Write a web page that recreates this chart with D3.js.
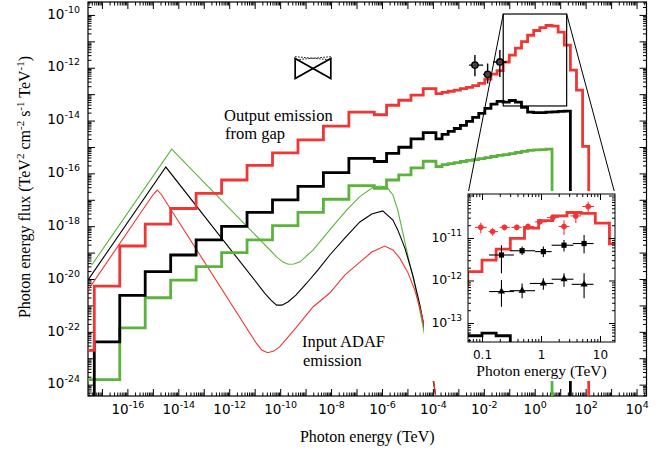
<!DOCTYPE html>
<html>
<head>
<meta charset="utf-8">
<script src="https://cdn.jsdelivr.net/npm/d3@7"></script>
<style>
body{margin:0;background:#fff;}
svg{display:block;}
</style>
</head>
<body>
<div id="chart"></div>
<script>
// all numbers are log10 values (energy in TeV, flux in TeV cm^-2 s^-1)

// output emission from the gap: histogram bins shared by the three runs
var binEdges = [-17.55, -17.3, -16.3, -15.3, -14.3, -13.3, -12.3, -11.3, -10.3, -9.3, -8.3, -7.3, -6.3,
	-5.82, -5.34, -4.86, -4.38, -3.88, -3.64, -3.40, -3.16, -2.92, -2.68, -2.44, -2.20, -1.96, -1.72,
	-1.48, -1.24, -1.00, -0.76, -0.52, -0.28, -0.04, 0.20, 0.44, 0.68, 0.92, 1.16, 1.40, 1.64, 1.88, 2.12];

var redGap = [-22.70, -20.27, -18.75, -17.92, -17.33, -16.76, -16.25, -15.70, -15.22, -14.73, -14.21, -13.68,
	-13.78, -13.42, -13.23, -13.04, -12.79, -12.98, -12.93, -12.89, -12.85, -12.79, -12.74, -12.68, -12.59,
	-12.43, -12.24, -12.11, -11.79, -11.52, -11.26, -11.01, -10.77, -10.59, -10.48, -10.40, -10.42, -10.65,
	-11.14, -12.09, -12.85, -14.98];

var blackGap = [null, -22.38, -20.62, -19.72, -19.09, -18.52, -18.01, -17.48, -17.00, -16.49, -15.97, -15.43,
	-15.55, -15.24, -15.01, -14.69, -14.46, -14.69, -14.52, -14.41, -14.30, -14.18, -14.03, -13.88, -13.73,
	-13.54, -13.38, -13.27, -13.30, -13.24, -13.30, -13.50, -13.68, -13.70, -13.70, -13.68, -13.67, -13.65,
	-13.64, null, null, null];

var greenGap = [-23.81, -23.81, -21.85, -20.71, -20.04, -19.53, -19.00, -18.52, -17.98, -17.48, -16.98, -16.46,
	-16.57, -16.25, -16.06, -15.79, -15.54, -15.74, -15.67, -15.63, -15.59, -15.55, -15.51, -15.48, -15.44,
	-15.40, -15.36, -15.32, -15.29, -15.25, -15.21, -15.17, -15.13, -15.11, -15.10, -15.08, null, null,
	null, null, null, null];

// input ADAF emission [logE, logFlux]
var greenAdaf = [[-17.40, -19.47], [-14.26, -15.08], [-10.14, -19.16], [-9.89, -19.36], [-9.68, -19.44],
	[-9.46, -19.43], [-9.22, -19.35], [-8.70, -18.90], [-8.05, -18.14], [-7.39, -17.39], [-6.87, -16.88],
	[-6.35, -16.53], [-6.08, -16.48], [-5.81, -16.52], [-5.57, -16.82], [-5.38, -17.39], [-5.22, -18.07],
	[-4.99, -19.09], [-4.71, -20.23], [-4.44, -21.55], [-4.20, -22.76], [-4.00, -23.83], [-3.89, -24.43]];

var blackAdaf = [[-17.55, -20.04], [-14.49, -15.76], [-10.60, -20.54], [-10.36, -20.80], [-10.14, -20.99],
	[-9.93, -20.99], [-9.68, -20.86], [-9.38, -20.61], [-8.96, -20.16], [-8.52, -19.66], [-8.05, -19.09],
	[-7.46, -18.45], [-6.87, -17.84], [-6.40, -17.54], [-5.97, -17.42], [-5.57, -17.77], [-5.38, -18.14],
	[-5.10, -18.83], [-4.79, -19.85], [-4.51, -20.99], [-4.24, -22.31], [-4.04, -23.45], [-3.89, -24.43]];

var redAdaf = [[-17.55, -20.42], [-15.00, -16.82], [-14.83, -16.63], [-14.68, -16.78], [-10.93, -22.44],
	[-10.72, -22.69], [-10.49, -22.79], [-10.25, -22.73], [-10.01, -22.56], [-9.35, -21.81], [-8.70, -21.05],
	[-8.05, -20.53], [-7.46, -19.85], [-6.87, -19.36], [-6.40, -18.98], [-5.89, -18.75], [-5.57, -18.90],
	[-5.30, -19.21], [-4.99, -19.74], [-4.71, -20.42], [-4.44, -21.36], [-4.20, -22.50], [-4.00, -23.64],
	[-3.89, -24.43]];

// measured points [logE, logF, logE lo, logE hi, logF lo, logF hi]
var mainPoints = [[-2.35, -11.90, -2.58, -2.03, -12.32, -11.52],
	[-1.85, -12.25, -2.03, -1.70, -12.60, -11.84],
	[-1.37, -11.78, -1.64, -1.11, -12.35, -11.33]];

var bowtieE = [-9.41, -8.01];
var bowtieF = [-11.65, -12.41];
var bowtieDotF = [-11.58, -11.70];

var insetRed = [[-1.02, -10.75, -1.12, -0.92, -10.89, -10.64],
	[-0.82, -10.85, -0.89, -0.73, -10.95, -10.77],
	[-0.62, -10.75, -0.70, -0.53, -10.82, -10.69],
	[-0.41, -10.75, -0.50, -0.33, -10.82, -10.69],
	[-0.22, -10.73, -0.31, -0.12, -10.81, -10.66],
	[-0.02, -10.62, -0.10, 0.10, -10.69, -10.55],
	[0.20, -10.52, 0.10, 0.30, -10.59, -10.46],
	[0.39, -10.73, 0.30, 0.48, -10.93, -10.58],
	[0.59, -10.48, 0.50, 0.68, -10.65, -10.38],
	[0.80, -10.26, 0.70, 0.90, -10.38, -10.15]];

var insetSquares = [[-0.67, -11.40, -0.88, -0.46, -11.83, -11.17],
	[-0.32, -11.30, -0.53, -0.10, -11.40, -11.20],
	[0.04, -11.32, -0.10, 0.18, -11.45, -11.20],
	[0.39, -11.17, 0.18, 0.55, -11.32, -11.05],
	[0.73, -11.13, 0.54, 0.89, -11.36, -10.93]];

var insetTriangles = [[-0.67, -12.26, -0.88, -0.46, -12.62, -11.99],
	[-0.32, -12.24, -0.53, -0.10, -12.42, -12.07],
	[0.04, -12.07, -0.19, 0.21, -12.22, -11.95],
	[0.39, -11.97, 0.18, 0.55, -12.15, -11.83],
	[0.73, -12.09, 0.52, 0.89, -12.42, -11.83]];

// axis ranges and tick labels
var xDomainExp = [-17.547, 4.39];
var yDomainExp = [-24.43, -9.51];
var insetXDomainExp = [-1.237, 1.254];
var insetYDomainExp = [-13.447, -9.965];
var xLabelExp = [-16, -14, -12, -10, -8, -6, -4, -2, 0, 2, 4];
var yLabelExp = [-10, -12, -14, -16, -18, -20, -22, -24];
var insetXLabels = [0.1, 1, 10];
var insetYLabelExp = [-11, -12, -13];

var RED = "#f03535", GREEN = "#5ab43c", BLACK = "#000";
var W = 671, H = 453;
var plotL = 88, plotR = 646.5, plotT = 2, plotB = 396;
var insL = 468, insR = 615, insT = 194, insB = 342;

function p10(e){ return Math.pow(10, e); }

var x = d3.scaleLog().domain(xDomainExp.map(p10)).range([plotL, plotR]);
var y = d3.scaleLog().domain(yDomainExp.map(p10)).range([plotB, plotT]);
var xi = d3.scaleLog().domain(insetXDomainExp.map(p10)).range([insL, insR]);
var yi = d3.scaleLog().domain(insetYDomainExp.map(p10)).range([insB, insT]);

var svg = d3.select("#chart").append("svg").attr("width", W).attr("height", H);
var defs = svg.append("defs");
defs.append("clipPath").attr("id", "clipMain").append("rect")
	.attr("x", plotL).attr("y", plotT).attr("width", plotR - plotL).attr("height", plotB - plotT);
defs.append("clipPath").attr("id", "clipInset").append("rect")
	.attr("x", insL).attr("y", insT).attr("width", insR - insL).attr("height", insB - insT);

function decades(lo, hi){
	var out = [];
	for(var k = Math.ceil(lo); k <= Math.floor(hi); k++) out.push(p10(k));
	return out;
}

function minors(lo, hi){
	var out = [];
	for(var k = Math.floor(lo); k <= Math.ceil(hi); k++){
		for(var m = 2; m < 10; m++){
			var l = Math.log10(m) + k;
			if(l > lo && l < hi) out.push(m * p10(k));
		}
	}
	return out;
}

// turn a bin list into a step outline, dropping to the floor where a run starts or stops
function stepPoints(levels){
	var pts = [], floor = -26;
	for(var i = 0; i < levels.length; i++){
		if(levels[i] === null) continue;
		if(i > 0 && levels[i - 1] === null) pts.push([binEdges[i], floor]);
		pts.push([binEdges[i], levels[i]]);
		pts.push([binEdges[i + 1], levels[i]]);
		if(i === levels.length - 1 || levels[i + 1] === null) pts.push([binEdges[i + 1], floor]);
	}
	return pts;
}

function expLabels(sel, exps, fs, sfs, rise){
	sel.selectAll(".tick text").each(function(d){
		var e = Math.round(Math.log10(d));
		var t = d3.select(this).text(null);
		if(exps.indexOf(e) < 0) return;
		t.append("tspan").attr("font-size", fs).text("10");
		t.append("tspan").attr("font-size", sfs).attr("dy", -rise).text(e);
	});
}

function styleAxis(g){
	g.select(".domain").remove();
	g.selectAll(".tick line").attr("stroke", "#000").attr("stroke-width", 1);
	g.attr("font-family", "DejaVu Sans").attr("fill", "#000");
	g.selectAll(".tick text").attr("fill", "#000");
}

// ---------- main panel ----------
var xD = decades(xDomainExp[0], xDomainExp[1]), xM = minors(xDomainExp[0], xDomainExp[1]);
var yD = decades(yDomainExp[0], yDomainExp[1]), yM = minors(yDomainExp[0], yDomainExp[1]);

var gxb = svg.append("g").attr("transform", "translate(0," + plotB + ")")
	.call(d3.axisBottom(x).tickValues(xD).tickSize(-7).tickPadding(11));
styleAxis(gxb);
expLabels(gxb, xLabelExp, 13.5, 9.5, 6);
svg.append("g").attr("transform", "translate(0," + plotB + ")")
	.call(d3.axisBottom(x).tickValues(xM).tickSize(-3.5).tickFormat("")).call(styleAxis);
svg.append("g").attr("transform", "translate(0," + plotT + ")")
	.call(d3.axisTop(x).tickValues(xD).tickSize(-7).tickFormat("")).call(styleAxis);
svg.append("g").attr("transform", "translate(0," + plotT + ")")
	.call(d3.axisTop(x).tickValues(xM).tickSize(-3.5).tickFormat("")).call(styleAxis);

var gyl = svg.append("g").attr("transform", "translate(" + plotL + ",0)")
	.call(d3.axisLeft(y).tickValues(yD).tickSize(-7).tickPadding(8));
styleAxis(gyl);
expLabels(gyl, yLabelExp, 13.5, 9.5, 6);
svg.append("g").attr("transform", "translate(" + plotL + ",0)")
	.call(d3.axisLeft(y).tickValues(yM).tickSize(-3.5).tickFormat("")).call(styleAxis);
svg.append("g").attr("transform", "translate(" + plotR + ",0)")
	.call(d3.axisRight(y).tickValues(yD).tickSize(-7).tickFormat("")).call(styleAxis);
svg.append("g").attr("transform", "translate(" + plotR + ",0)")
	.call(d3.axisRight(y).tickValues(yM).tickSize(-3.5).tickFormat("")).call(styleAxis);

svg.append("rect").attr("x", plotL).attr("y", plotT).attr("width", plotR - plotL).attr("height", plotB - plotT)
	.attr("fill", "none").attr("stroke", "#000").attr("stroke-width", 1.2);

var gMain = svg.append("g").attr("clip-path", "url(#clipMain)");

var thinLine = d3.line()
	.x(function(d){ return x(p10(d[0])); })
	.y(function(d){ return y(p10(d[1])); });

[[greenAdaf, GREEN], [blackAdaf, BLACK], [redAdaf, RED]].forEach(function(c){
	gMain.append("path").attr("d", thinLine(c[0]))
		.attr("fill", "none").attr("stroke", c[1]).attr("stroke-width", 1.1);
});

[[greenGap, GREEN], [blackGap, BLACK], [redGap, RED]].forEach(function(c){
	gMain.append("path").attr("d", thinLine(stepPoints(c[0])))
		.attr("fill", "none").attr("stroke", c[1]).attr("stroke-width", 2.8)
		.attr("stroke-linejoin", "miter");
});

function errorBars(g, rows, sx, sy, color, w){
	rows.forEach(function(r){
		g.append("line").attr("x1", sx(p10(r[2]))).attr("x2", sx(p10(r[3])))
			.attr("y1", sy(p10(r[1]))).attr("y2", sy(p10(r[1])))
			.attr("stroke", color).attr("stroke-width", w);
		g.append("line").attr("x1", sx(p10(r[0]))).attr("x2", sx(p10(r[0])))
			.attr("y1", sy(p10(r[4]))).attr("y2", sy(p10(r[5])))
			.attr("stroke", color).attr("stroke-width", w);
	});
}

errorBars(gMain, mainPoints, x, y, "#000", 1.4);
gMain.selectAll("circle.pt").data(mainPoints).enter().append("circle")
	.attr("cx", function(d){ return x(p10(d[0])); })
	.attr("cy", function(d){ return y(p10(d[1])); })
	.attr("r", 3.2).attr("fill", "#444").attr("stroke", "#000").attr("stroke-width", 1.3);

// bow tie
var bx0 = x(p10(bowtieE[0])), bx1 = x(p10(bowtieE[1]));
gMain.append("path")
	.attr("d", "M" + bx0 + "," + y(p10(bowtieF[0])) + "L" + bx1 + "," + y(p10(bowtieF[1])) +
		"L" + bx1 + "," + y(p10(bowtieF[0])) + "L" + bx0 + "," + y(p10(bowtieF[1])) + "Z")
	.attr("fill", "none").attr("stroke", "#000").attr("stroke-width", 1.7);
gMain.append("path")
	.attr("d", "M" + bx0 + "," + y(p10(bowtieDotF[0])) + "L" + bx1 + "," + y(p10(bowtieDotF[1])) +
		"L" + bx1 + "," + y(p10(bowtieDotF[0])) + "L" + bx0 + "," + y(p10(bowtieDotF[1])) + "Z")
	.attr("fill", "none").attr("stroke", "#000").attr("stroke-width", 1).attr("stroke-dasharray", "1.5,1.5");

// text
var serif = "Liberation Serif";
svg.append("text").attr("x", 224).attr("y", 121).attr("font-family", serif).attr("font-size", 16.5).text("Output emission");
svg.append("text").attr("x", 225).attr("y", 139).attr("font-family", serif).attr("font-size", 16.5).text("from gap");
svg.append("text").attr("x", 302).attr("y", 347).attr("font-family", serif).attr("font-size", 16.5).text("Input ADAF");
svg.append("text").attr("x", 303).attr("y", 366).attr("font-family", serif).attr("font-size", 16.5).text("emission");

svg.append("text").attr("x", (plotL + plotR) / 2).attr("y", 442).attr("text-anchor", "middle")
	.attr("font-family", serif).attr("font-size", 16).text("Photon energy (TeV)");

var yt = svg.append("text").attr("transform", "translate(30,187) rotate(-90)").attr("text-anchor", "middle")
	.attr("font-family", serif).attr("font-size", 16);
yt.append("tspan").text("Photon energy flux (TeV");
yt.append("tspan").attr("dy", -6).attr("font-size", 11).text("2");
yt.append("tspan").attr("dy", 6).text(" cm");
yt.append("tspan").attr("dy", -6).attr("font-size", 11).text("-2");
yt.append("tspan").attr("dy", 6).text(" s");
yt.append("tspan").attr("dy", -6).attr("font-size", 11).text("-1");
yt.append("tspan").attr("dy", 6).text(" TeV");
yt.append("tspan").attr("dy", -6).attr("font-size", 11).text("-1");
yt.append("tspan").attr("dy", 6).text(")");

// zoom box and connectors
var zx0 = x(p10(insetXDomainExp[0])), zx1 = x(p10(insetXDomainExp[1]));
var zy0 = y(p10(insetYDomainExp[1])), zy1 = y(p10(insetYDomainExp[0]));
svg.append("rect").attr("x", zx0).attr("y", zy0).attr("width", zx1 - zx0).attr("height", zy1 - zy0)
	.attr("fill", "none").attr("stroke", "#000").attr("stroke-width", 1.2);
svg.append("line").attr("x1", zx0).attr("y1", zy0).attr("x2", insL).attr("y2", insT).attr("stroke", "#000").attr("stroke-width", 1);
svg.append("line").attr("x1", zx1).attr("y1", zy0).attr("x2", insR).attr("y2", insT).attr("stroke", "#000").attr("stroke-width", 1);

// ---------- inset ----------
svg.append("rect").attr("x", 424).attr("y", insT - 3).attr("width", 197).attr("height", 381 - insT + 3).attr("fill", "#fff");

var gIn = svg.append("g").attr("clip-path", "url(#clipInset)");
[[blackGap, BLACK], [redGap, RED]].forEach(function(c){
	var l = d3.line().x(function(d){ return xi(p10(d[0])); }).y(function(d){ return yi(p10(d[1])); });
	gIn.append("path").attr("d", l(stepPoints(c[0])))
		.attr("fill", "none").attr("stroke", c[1]).attr("stroke-width", 2.8);
});

errorBars(gIn, insetRed, xi, yi, RED, 1.1);
gIn.selectAll("circle.r").data(insetRed).enter().append("circle")
	.attr("cx", function(d){ return xi(p10(d[0])); })
	.attr("cy", function(d){ return yi(p10(d[1])); })
	.attr("r", 2.8).attr("fill", RED);

errorBars(gIn, insetSquares, xi, yi, "#000", 1.1);
gIn.selectAll("rect.s").data(insetSquares).enter().append("rect")
	.attr("x", function(d){ return xi(p10(d[0])) - 2.6; })
	.attr("y", function(d){ return yi(p10(d[1])) - 2.6; })
	.attr("width", 5.2).attr("height", 5.2).attr("fill", "#000");

errorBars(gIn, insetTriangles, xi, yi, "#000", 1.1);
gIn.selectAll("path.t").data(insetTriangles).enter().append("path")
	.attr("d", d3.symbol().type(d3.symbolTriangle).size(22))
	.attr("transform", function(d){ return "translate(" + xi(p10(d[0])) + "," + yi(p10(d[1])) + ")"; })
	.attr("fill", "#000");

var ixD = decades(insetXDomainExp[0], insetXDomainExp[1]), ixM = minors(insetXDomainExp[0], insetXDomainExp[1]);
var iyD = decades(insetYDomainExp[0], insetYDomainExp[1]), iyM = minors(insetYDomainExp[0], insetYDomainExp[1]);

var gixb = svg.append("g").attr("transform", "translate(0," + insB + ")")
	.call(d3.axisBottom(xi).tickValues(ixD).tickSize(-6).tickPadding(8)
		.tickFormat(function(d){ return insetXLabels.indexOf(+d.toPrecision(3)) >= 0 ? String(+d.toPrecision(3)) : ""; }));
styleAxis(gixb);
gixb.attr("font-size", 12);
svg.append("g").attr("transform", "translate(0," + insB + ")")
	.call(d3.axisBottom(xi).tickValues(ixM).tickSize(-3).tickFormat("")).call(styleAxis);
svg.append("g").attr("transform", "translate(0," + insT + ")")
	.call(d3.axisTop(xi).tickValues(ixD).tickSize(-6).tickFormat("")).call(styleAxis);
svg.append("g").attr("transform", "translate(0," + insT + ")")
	.call(d3.axisTop(xi).tickValues(ixM).tickSize(-3).tickFormat("")).call(styleAxis);

var giyl = svg.append("g").attr("transform", "translate(" + insL + ",0)")
	.call(d3.axisLeft(yi).tickValues(iyD).tickSize(-6).tickPadding(6));
styleAxis(giyl);
expLabels(giyl, insetYLabelExp, 12.5, 9, 5.5);
svg.append("g").attr("transform", "translate(" + insL + ",0)")
	.call(d3.axisLeft(yi).tickValues(iyM).tickSize(-3).tickFormat("")).call(styleAxis);
svg.append("g").attr("transform", "translate(" + insR + ",0)")
	.call(d3.axisRight(yi).tickValues(iyD).tickSize(-6).tickFormat("")).call(styleAxis);
svg.append("g").attr("transform", "translate(" + insR + ",0)")
	.call(d3.axisRight(yi).tickValues(iyM).tickSize(-3).tickFormat("")).call(styleAxis);

svg.append("rect").attr("x", insL).attr("y", insT).attr("width", insR - insL).attr("height", insB - insT)
	.attr("fill", "none").attr("stroke", "#000").attr("stroke-width", 1);

svg.append("text").attr("x", (insL + insR) / 2).attr("y", 376).attr("text-anchor", "middle")
	.attr("font-family", serif).attr("font-size", 15.5).text("Photon energy (TeV)");
</script>
</body>
</html>
